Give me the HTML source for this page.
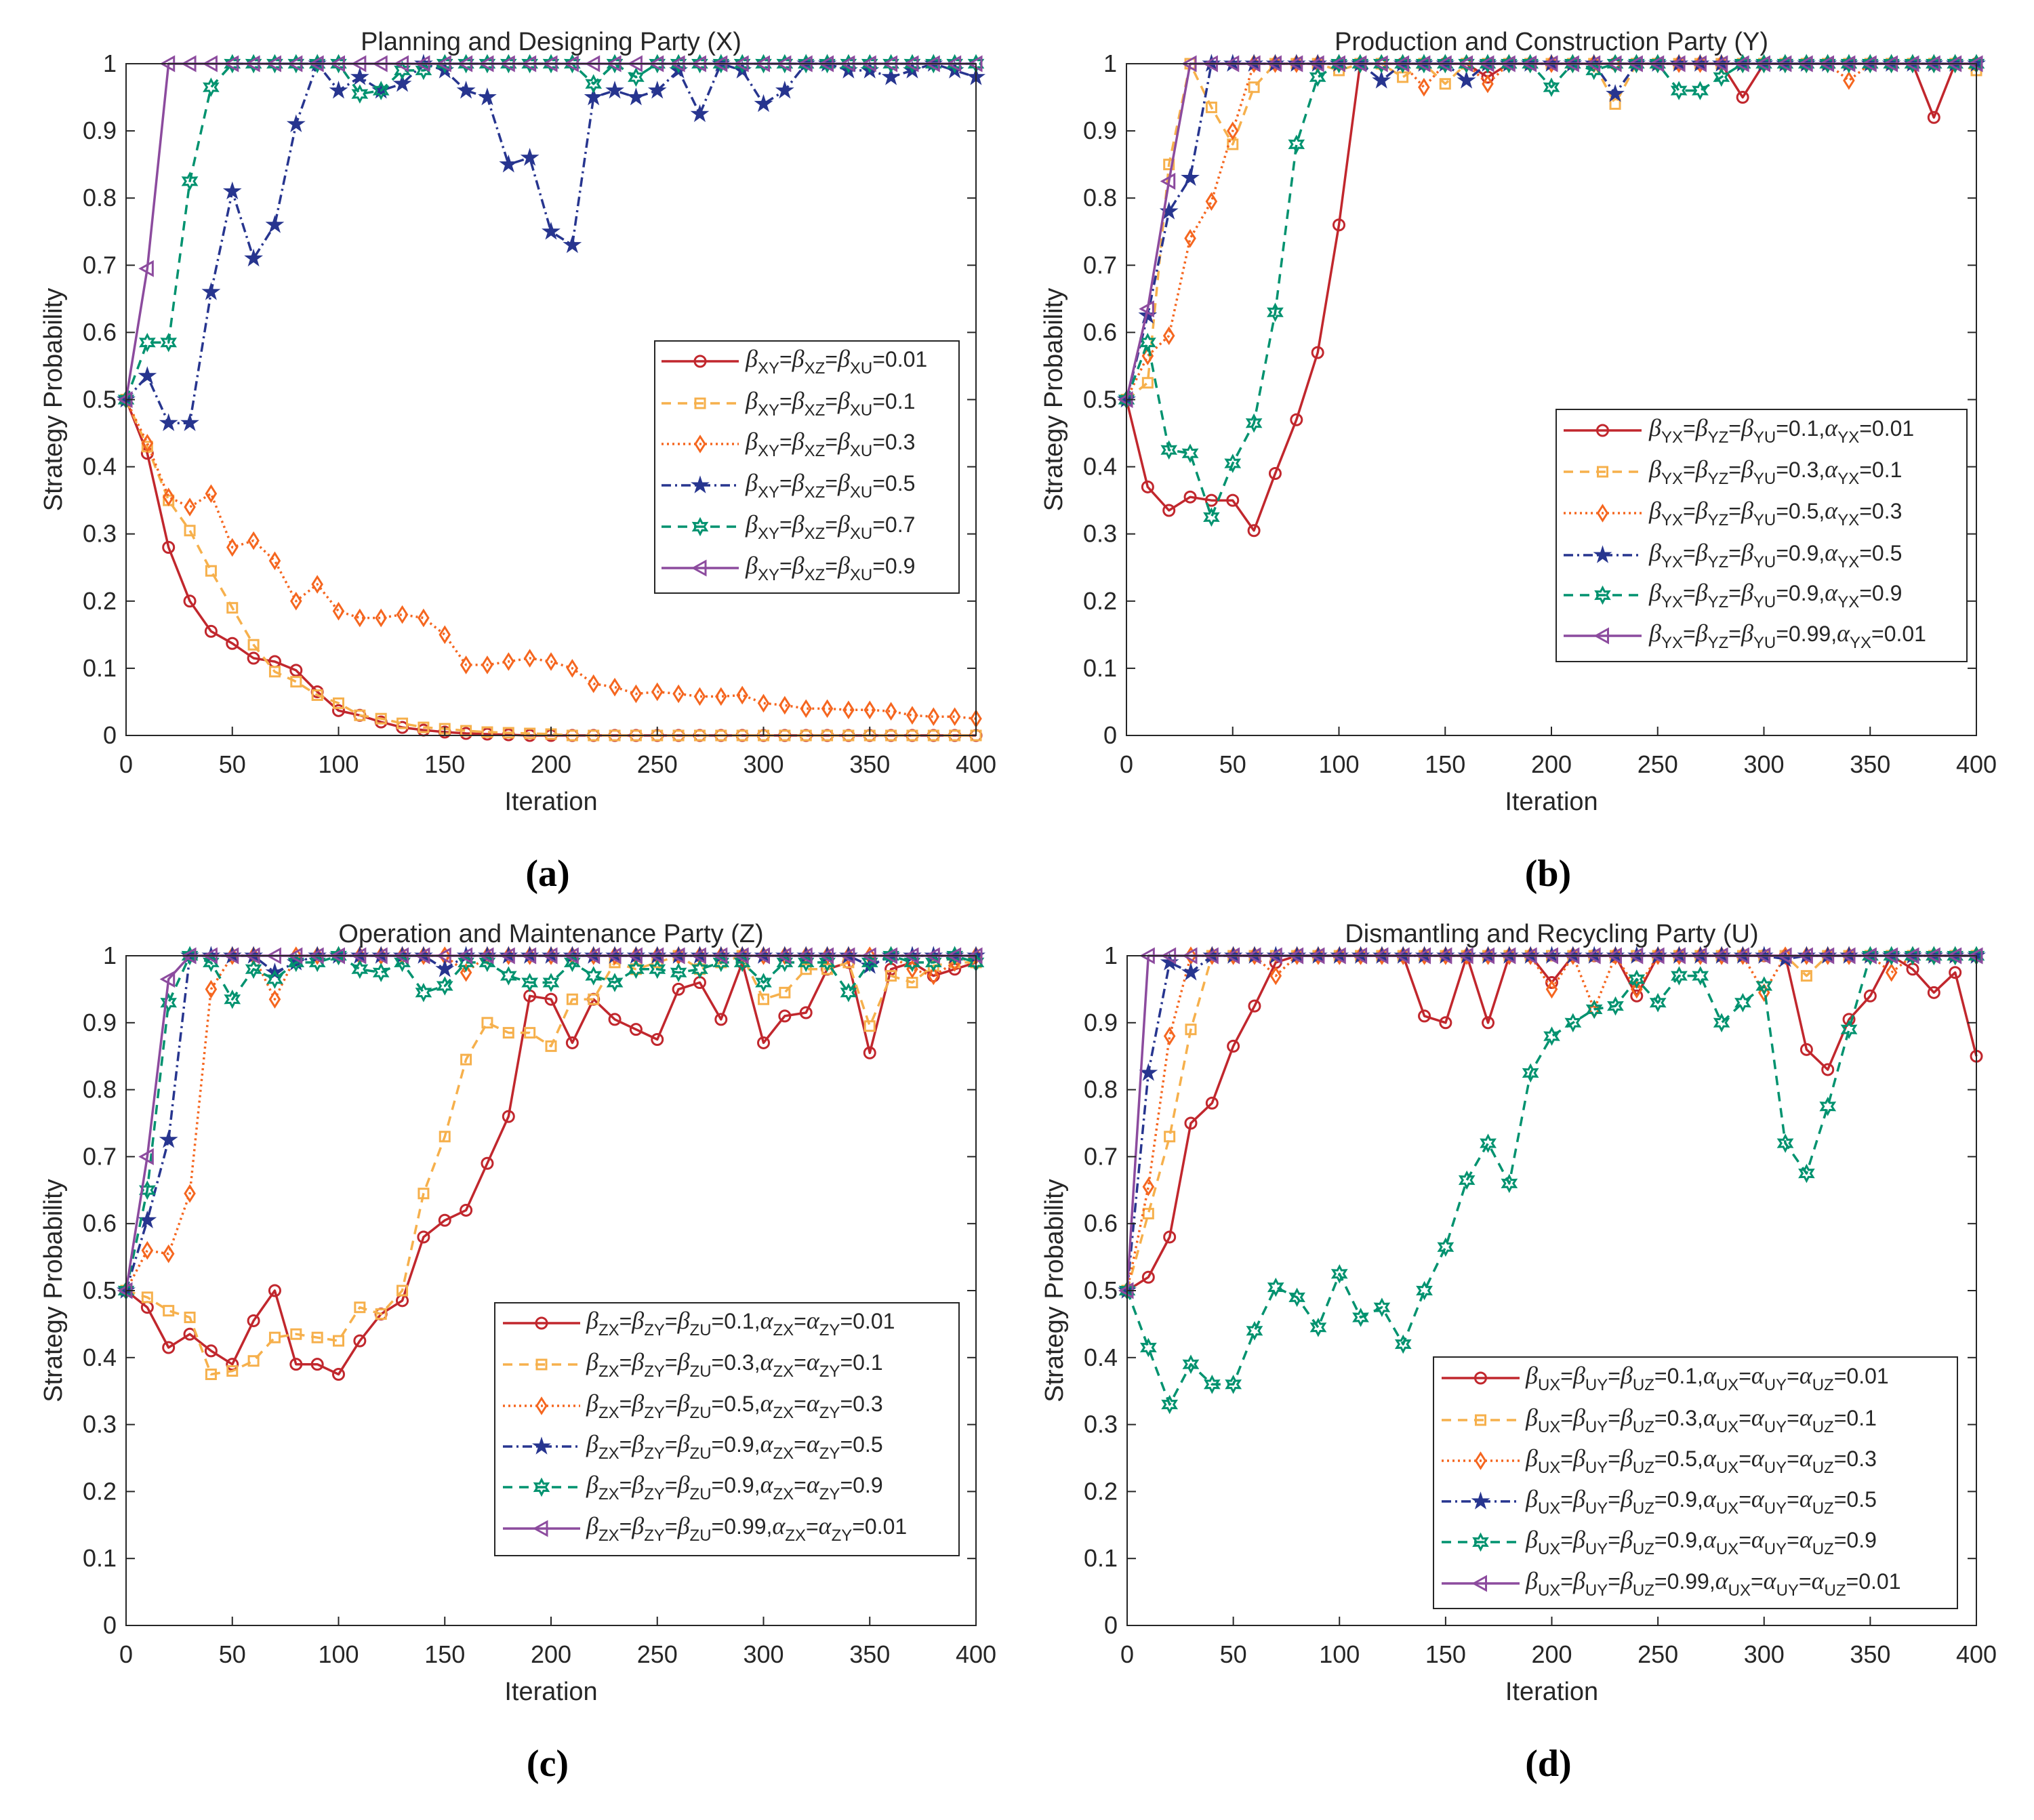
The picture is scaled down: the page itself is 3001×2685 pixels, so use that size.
<!DOCTYPE html>
<html><head><meta charset="utf-8"><style>
html,body{margin:0;padding:0;background:#fff;}
svg{display:block;}
text{font-family:"Liberation Sans",Arial,sans-serif;fill:#262626;}
.gr{font-family:"Liberation Serif",serif;font-style:italic;}
.pl{font-family:"Liberation Serif",serif;font-weight:bold;fill:#000;}
</style></head><body>
<svg id="fig" width="3001" height="2685" viewBox="0 0 3001 2685" xmlns="http://www.w3.org/2000/svg"></svg>
<script>
const iters=[0,10,20,30,40,50,60,70,80,90,100,110,120,130,140,150,160,170,180,190,200,210,220,230,240,250,260,270,280,290,300,310,320,330,340,350,360,370,380,390,400];
const xTicks=[0,50,100,150,200,250,300,350,400];
const yTicks=[0,0.1,0.2,0.3,0.4,0.5,0.6,0.7,0.8,0.9,1];
const yTickLabels=["0","0.1","0.2","0.3","0.4","0.5","0.6","0.7","0.8","0.9","1"];
// Panel (a)
const aS1=[0.5,0.42,0.28,0.2,0.155,0.137,0.115,0.11,0.097,0.065,0.037,0.03,0.02,0.012,0.008,0.005,0.003,0.002,0.001,0,0,0,0,0,0,0,0,0,0,0,0,0,0,0,0,0,0,0,0,0,0];
const aS2=[0.5,0.43,0.35,0.305,0.245,0.19,0.135,0.095,0.08,0.06,0.048,0.03,0.025,0.018,0.012,0.01,0.007,0.005,0.004,0.003,0.002,0,0,0,0,0,0,0,0,0,0,0,0,0,0,0,0,0,0,0,0];
const aS3=[0.5,0.435,0.355,0.34,0.36,0.28,0.29,0.26,0.2,0.225,0.185,0.175,0.175,0.18,0.175,0.15,0.105,0.105,0.11,0.115,0.11,0.1,0.077,0.072,0.062,0.065,0.062,0.058,0.058,0.06,0.048,0.045,0.04,0.04,0.038,0.038,0.036,0.03,0.028,0.028,0.025];
const aS4=[0.5,0.535,0.465,0.465,0.66,0.81,0.71,0.76,0.91,1,0.96,0.98,0.96,0.97,1,0.99,0.96,0.95,0.85,0.86,0.75,0.73,0.95,0.96,0.95,0.96,0.99,0.925,1,0.99,0.94,0.96,1,1,0.99,0.99,0.98,0.99,1,0.99,0.98];
const aS5=[0.5,0.585,0.585,0.825,0.965,1,1,1,1,1,1,0.955,0.96,0.99,0.99,1,1,1,1,1,1,1,0.97,1,0.98,1,1,1,1,1,1,1,1,1,1,1,1,1,1,1,1];
const aS6=[0.5,0.695,1,1,1,1,1,1,1,1,1,1,1,1,1,1,1,1,1,1,1,1,1,1,1,1,1,1,1,1,1,1,1,1,1,1,1,1,1,1,1];
// Panel (b)
const bS1=[0.5,0.37,0.335,0.355,0.35,0.35,0.305,0.39,0.47,0.57,0.76,1,1,1,1,1,1,0.98,1,1,1,1,1,1,1,1,1,1,1,0.95,1,1,1,1,1,1,1,1,0.92,1,1];
const bS2=[0.5,0.525,0.85,1,0.935,0.88,0.965,1,1,1,0.99,1,1,0.98,1,0.97,1,1,1,1,1,1,1,0.94,1,1,1,1,1,1,1,1,1,1,1,1,1,1,1,1,0.99];
const bS3=[0.5,0.565,0.595,0.74,0.795,0.9,1,1,1,1,1,1,1,1,0.965,1,1,0.97,1,1,1,1,1,1,1,1,1,1,1,1,1,1,1,1,0.975,1,1,1,1,1,1];
const bS4=[0.5,0.625,0.78,0.83,1,1,1,1,1,1,1,1,0.975,1,1,1,0.975,1,1,1,1,1,1,0.955,1,1,1,1,1,1,1,1,1,1,1,1,1,1,1,1,1];
const bS5=[0.5,0.585,0.425,0.42,0.325,0.405,0.465,0.63,0.88,0.98,1,1,1,1,1,1,1,1,1,1,0.965,1,0.99,1,1,1,0.96,0.96,0.98,1,1,1,1,1,1,1,1,1,1,1,1];
const bS6=[0.5,0.635,0.825,1,1,1,1,1,1,1,1,1,1,1,1,1,1,1,1,1,1,1,1,1,1,1,1,1,1,1,1,1,1,1,1,1,1,1,1,1,1];
// Panel (c)
const cS1=[0.5,0.475,0.415,0.435,0.41,0.39,0.455,0.5,0.39,0.39,0.375,0.425,0.465,0.485,0.58,0.605,0.62,0.69,0.76,0.94,0.935,0.87,0.935,0.905,0.89,0.875,0.95,0.96,0.905,0.99,0.87,0.91,0.915,0.98,0.99,0.855,0.98,0.99,0.97,0.98,0.99];
const cS2=[0.5,0.49,0.47,0.46,0.375,0.38,0.395,0.43,0.435,0.43,0.425,0.475,0.465,0.5,0.645,0.73,0.845,0.9,0.885,0.885,0.865,0.935,0.935,0.99,0.98,0.99,1,0.98,0.99,1,0.935,0.945,0.98,0.98,0.99,0.895,0.97,0.96,0.985,0.99,0.99];
const cS3=[0.5,0.56,0.555,0.645,0.95,1,1,0.935,1,1,1,1,1,1,1,1,0.975,1,1,1,1,1,1,1,1,1,1,1,1,1,1,1,1,1,1,1,1,0.98,0.97,0.99,1];
const cS4=[0.5,0.605,0.725,1,1,1,1,0.975,0.99,1,1,1,1,1,1,0.98,1,1,1,1,1,1,1,1,1,1,1,1,1,1,1,1,1,1,1,0.985,1,1,1,1,1];
const cS5=[0.5,0.65,0.93,1,0.99,0.935,0.98,0.965,0.99,0.99,1,0.98,0.975,0.99,0.945,0.955,0.99,0.99,0.97,0.96,0.96,0.99,0.97,0.96,0.98,0.98,0.975,0.98,0.99,0.99,0.96,0.99,0.99,0.99,0.945,0.99,1,0.99,0.99,1,0.99];
const cS6=[0.5,0.7,0.965,1,1,1,1,1,1,1,1,1,1,1,1,1,1,1,1,1,1,1,1,1,1,1,1,1,1,1,1,1,1,1,1,1,1,1,1,1,1];
// Panel (d)
const dS1=[0.5,0.52,0.58,0.75,0.78,0.865,0.925,0.99,1,1,1,1,1,1,0.91,0.9,1,0.9,1,1,0.96,1,1,1,0.94,1,1,1,1,1,1,1,0.86,0.83,0.905,0.94,1,0.98,0.945,0.975,0.85];
const dS2=[0.5,0.615,0.73,0.89,1,1,1,1,1,1,1,1,1,1,1,1,1,1,1,1,1,1,1,1,1,1,1,1,1,1,1,1,0.97,1,1,1,1,1,1,1,1];
const dS3=[0.5,0.655,0.88,1,1,1,1,0.97,1,1,1,1,1,1,1,1,1,1,1,1,0.95,1,0.92,1,0.95,1,1,1,1,1,0.945,1,1,1,1,1,0.975,1,1,1,1];
const dS4=[0.5,0.825,0.99,0.975,1,1,1,1,1,1,1,1,1,1,1,1,1,1,1,1,1,1,1,1,1,1,1,1,1,1,1,0.995,1,1,1,1,1,1,1,1,1];
const dS5=[0.5,0.415,0.33,0.39,0.36,0.36,0.44,0.505,0.49,0.445,0.525,0.46,0.475,0.42,0.5,0.565,0.665,0.72,0.66,0.825,0.88,0.9,0.92,0.925,0.965,0.93,0.97,0.97,0.9,0.93,0.955,0.72,0.675,0.775,0.89,1,1,1,1,1,1];
const dS6=[0.5,1,1,1,1,1,1,1,1,1,1,1,1,1,1,1,1,1,1,1,1,1,1,1,1,1,1,1,1,1,1,1,1,1,1,1,1,1,1,1,1];

const NS="http://www.w3.org/2000/svg";
const svg=document.getElementById('fig');
function mk(tag,attrs,parent){const e=document.createElementNS(NS,tag);for(const k in attrs)e.setAttribute(k,attrs[k]);(parent||svg).appendChild(e);return e;}
const styles=[
 {c:'#c1272d',dash:'',m:'circle'},
 {c:'#f6b04c',dash:'14,10',m:'square'},
 {c:'#f5661f',dash:'3,5',m:'diamond'},
 {c:'#27358f',dash:'14,6,3,6',m:'pentagram'},
 {c:'#00926f',dash:'14,10',m:'hexagram'},
 {c:'#8c4b9e',dash:'',m:'triangle'}];
function star(cx,cy,n,ro,ri){let p=[];for(let i=0;i<2*n;i++){const r=i%2?ri:ro;const a=-Math.PI/2+i*Math.PI/n;p.push((cx+r*Math.cos(a)).toFixed(1)+','+(cy+r*Math.sin(a)).toFixed(1));}return p.join(' ');}
function marker(g,type,x,y,c){
 const a={fill:'none',stroke:c,'stroke-width':3};
 let e;
 if(type==='circle'){e=mk('circle',Object.assign({cx:x,cy:y,r:8},a),g);}
 else if(type==='square'){e=mk('rect',Object.assign({x:x-7,y:y-7,width:14,height:14},a),g);}
 else if(type==='diamond'){e=mk('polygon',Object.assign({points:`${x},${y-11} ${x+7},${y} ${x},${y+11} ${x-7},${y}`},a),g);}
 else if(type==='pentagram'){e=mk('polygon',{points:star(x,y,5,13,5),fill:c,stroke:c,'stroke-width':1},g);}
 else if(type==='hexagram'){e=mk('polygon',Object.assign({points:star(x,y,6,11,6)},a),g);}
 else {e=mk('polygon',Object.assign({points:`${x-10},${y} ${x+8},${y-10} ${x+8},${y+10}`},a),g);}
 
 
}
function legendLabel(g,x,y,parts){
 const t=mk('text',{x:x,y:y,'font-size':32},g);
 
 
 parts.forEach(p=>{
  const [pre,greek,sub]=p;
  if(pre){const s=mk('tspan',{},t);s.textContent=pre;}
  if(greek){const s=mk('tspan',{class:'gr','font-size':36},t);s.textContent=greek;}
  if(sub){const s=mk('tspan',{'font-size':24,dy:10},t);s.textContent=sub;const r=mk('tspan',{dy:-10,'font-size':32},t);r.textContent='\u200b';}
 });
}
function panel(P){
 const g=mk('g',{});
 
 
 const X=v=>P.x0+(v/400)*(P.x1-P.x0);
 const Y=v=>P.y0-v*(P.y0-P.y1);
 mk('rect',{x:P.x0,y:P.y1,width:P.x1-P.x0,height:P.y0-P.y1,fill:'#fff'},g);
 P.series.forEach((arr,i)=>{
  const st=styles[i];
  const sg=mk('g',{},g);
  
  
  const d=arr.map((v,j)=>(j?'L':'M')+X(iters[j]).toFixed(1)+','+Y(v).toFixed(1)).join('');
  const pth=mk('path',{d:d,fill:'none',stroke:st.c,'stroke-width':3.5,'stroke-dasharray':st.dash,'stroke-linejoin':'round'},sg);
  
  
  arr.forEach((v,j)=>marker(sg,st.m,X(iters[j]),Y(v),st.c));
 });
 const box=mk('rect',{x:P.x0,y:P.y1,width:P.x1-P.x0,height:P.y0-P.y1,fill:'none',stroke:'#262626','stroke-width':2},g);
 
 
 xTicks.forEach(v=>{
  mk('line',{x1:X(v),x2:X(v),y1:P.y0,y2:P.y0-13,stroke:'#262626','stroke-width':2},g);
  const t=mk('text',{x:X(v),y:P.y0+55,'font-size':36,'text-anchor':'middle'},g);
  
  
  t.textContent=v;
 });
 yTicks.forEach((v,i)=>{
  mk('line',{x1:P.x0,x2:P.x0+13,y1:Y(v),y2:Y(v),stroke:'#262626','stroke-width':2},g);
  mk('line',{x1:P.x1,x2:P.x1-13,y1:Y(v),y2:Y(v),stroke:'#262626','stroke-width':2},g);
  const t=mk('text',{x:P.x0-14,y:Y(v)+12,'font-size':36,'text-anchor':'end'},g);
  
  
  t.textContent=yTickLabels[i];
 });
 const tt=mk('text',{x:(P.x0+P.x1)/2,y:P.y1-20,'font-size':38,'text-anchor':'middle',fill:'#000'},g);
 
 
 tt.textContent=P.title;
 const xl=mk('text',{x:(P.x0+P.x1)/2,y:P.y0+110,'font-size':38,'text-anchor':'middle'},g);
 
 
 xl.textContent='Iteration';
 const ycx=P.x0-95, ycy=(P.y0+P.y1)/2;
 const yl=mk('text',{x:ycx,y:ycy,'font-size':38,'text-anchor':'middle',transform:`rotate(-90 ${ycx} ${ycy})`},g);
 
 
 yl.textContent='Strategy Probability';
 const pl=mk('text',{x:(P.x0+P.x1)/2-5,y:P.y0+222,'font-size':56,'text-anchor':'middle',class:'pl'},g);
 
 
 pl.textContent=P.label;
 const L=P.leg;
 const lg=mk('g',{},g);
 
 
 mk('rect',{x:L.x,y:L.y,width:L.w,height:L.h,fill:'#fff',stroke:'#262626','stroke-width':2},lg);
 L.rows.forEach((ry,i)=>{
  const st=styles[i];
  const e=mk('g',{},lg);
  
  
  mk('line',{x1:L.lx0,x2:L.lx1,y1:ry,y2:ry,stroke:st.c,'stroke-width':3.5,'stroke-dasharray':st.dash},e);
  marker(e,st.m,(L.lx0+L.lx1)/2,ry,st.c);
  legendLabel(e,L.tx,ry+8,P.labels[i]);
 });
}
function lab(sub,betas,val,alphas,aval){
 let p=[];betas.forEach((b,i)=>p.push([i?'=':'','β',b]));
 if(alphas){p.push(['='+val+',','α',alphas[0]]);alphas.slice(1).forEach(a=>p.push(['=','α',a]));p.push(['='+aval,'','']);}
 else p.push(['='+val,'','']);
 return p;
}
const bX=['XY','XZ','XU'],bY=['YX','YZ','YU'],bZ=['ZX','ZY','ZU'],bU=['UX','UY','UZ'];
panel({name:'panel-a',title:'Planning and Designing Party (X)',label:'(a)',x0:186,x1:1440,y0:1085,y1:94,
 series:[aS1,aS2,aS3,aS4,aS5,aS6],
 labels:['0.01','0.1','0.3','0.5','0.7','0.9'].map(v=>lab('',bX,v)),
 leg:{x:966,y:503,w:449,h:372,rows:[533,595,655,716,777,838],lx0:976,lx1:1090,tx:1100}});
panel({name:'panel-b',title:'Production and Construction Party (Y)',label:'(b)',x0:1662,x1:2916,y0:1085,y1:94,
 series:[bS1,bS2,bS3,bS4,bS5,bS6],
 labels:[['0.1','0.01'],['0.3','0.1'],['0.5','0.3'],['0.9','0.5'],['0.9','0.9'],['0.99','0.01']].map(v=>lab('',bY,v[0],['YX'],v[1])),
 leg:{x:2296,y:604,w:606,h:372,rows:[635,696,757,819,878,938],lx0:2307,lx1:2422,tx:2433}});
panel({name:'panel-c',title:'Operation and Maintenance Party (Z)',label:'(c)',x0:186,x1:1440,y0:2398,y1:1410,
 series:[cS1,cS2,cS3,cS4,cS5,cS6],
 labels:[['0.1','0.01'],['0.3','0.1'],['0.5','0.3'],['0.9','0.5'],['0.9','0.9'],['0.99','0.01']].map(v=>lab('',bZ,v[0],['ZX','ZY'],v[1])),
 leg:{x:730,y:1922,w:685,h:373,rows:[1952,2013,2074,2134,2194,2255],lx0:742,lx1:856,tx:865}});
panel({name:'panel-d',title:'Dismantling and Recycling Party (U)',label:'(d)',x0:1663,x1:2916,y0:2398,y1:1410,
 series:[dS1,dS2,dS3,dS4,dS5,dS6],
 labels:[['0.1','0.01'],['0.3','0.1'],['0.5','0.3'],['0.9','0.5'],['0.9','0.9'],['0.99','0.01']].map(v=>lab('',bU,v[0],['UX','UY','UZ'],v[1])),
 leg:{x:2115,y:2002,w:773,h:371,rows:[2033,2095,2155,2215,2275,2336],lx0:2127,lx1:2242,tx:2251}});
</script>
</body></html>
